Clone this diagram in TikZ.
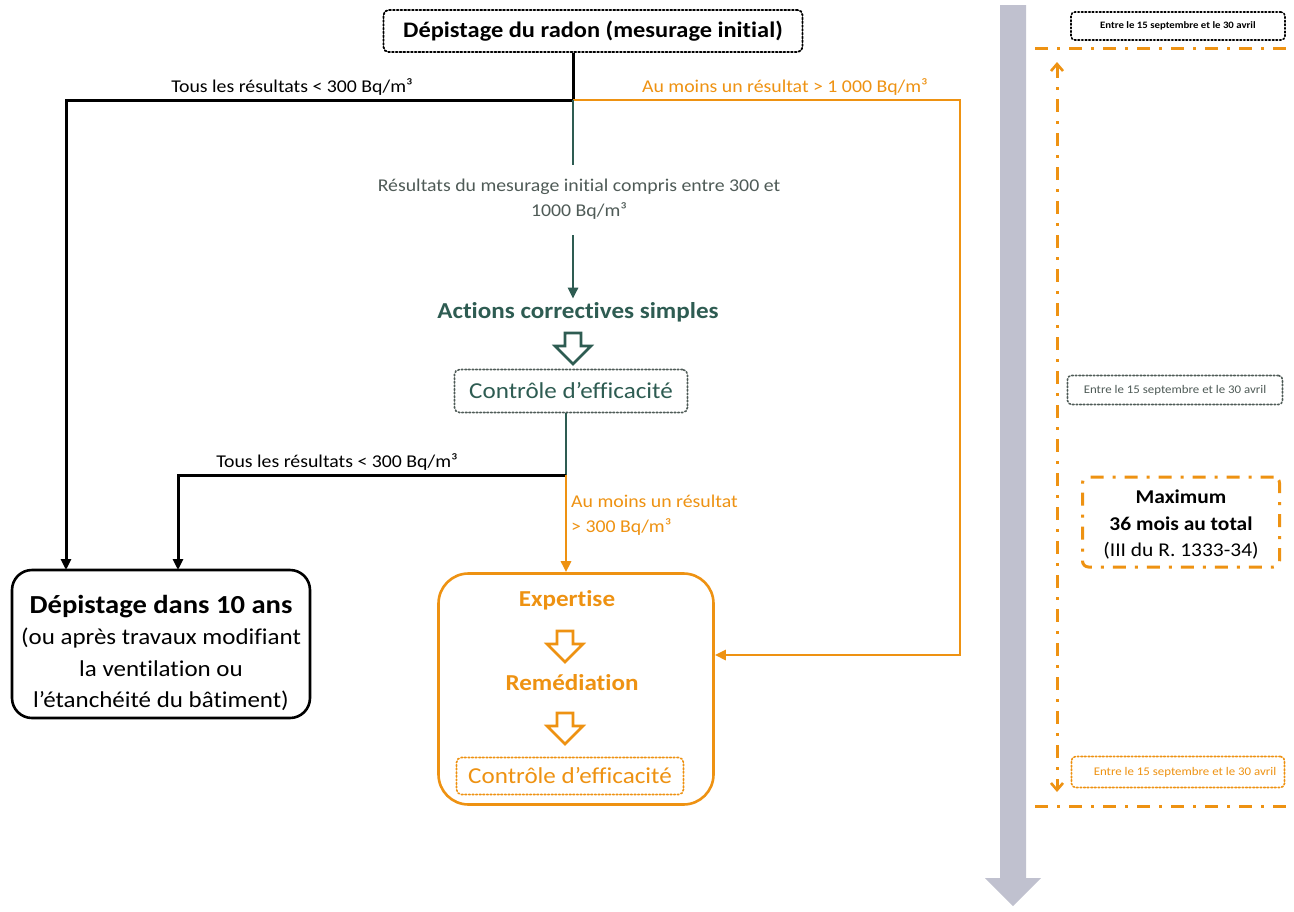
\documentclass[tikz,border=0pt]{standalone}
\usepackage{fontspec}
\setmainfont{Carlito}[FakeStretch=1.1,Ligatures=NoCommon]
\usetikzlibrary{arrows.meta}
\definecolor{orng}{HTML}{EE9212}
\definecolor{dgreen}{HTML}{2E5C52}
\definecolor{lgray}{HTML}{C0C1CF}
\definecolor{txtgray}{HTML}{4F5B57}
\newcommand\setfs[2]{\fontsize{#1}{#2}\selectfont}
\begin{document}
\begin{tikzpicture}[x=1pt,y=-1pt,
  blk/.style={line width=3pt,draw=black},
  org/.style={line width=2.6pt,draw=orng},
  grn/.style={line width=2.6pt,draw=dgreen},
  tip/.style={-{Triangle[length=11pt,width=10pt]}},
  dotbox/.style={draw,dotted,line width=1.8pt,line cap=round,rounded corners=5pt,inner sep=0pt},
  lbl/.style={inner sep=1pt,font=\setfs{18}{25}},
  dashdot/.style={draw=orng,line width=3pt,dash pattern=on 13pt off 9pt on 3pt off 9pt},
  hollow/.pic={\draw[line width=2.6pt,line join=miter,fill=white]
     (-8,0) -- (8,0) -- (8,13) -- (18,13) -- (0,31) -- (-18,13) -- (-8,13) -- cycle;},
  rbox/.style={draw,dotted,line width=1.6pt,line cap=round,rounded corners=4pt,inner sep=0pt,font=\setfs{11.7}{14}}
]
\useasboundingbox[fill=white] (0,0) rectangle (1294,911);

% --- time axis on the right ---
\fill[lgray] (1000,5) -- (1026,5) -- (1026,878) -- (1041,878) -- (1013,906) -- (985,878) -- (1000,878) -- cycle;
\coordinate (tA) at (1035,48);
\coordinate (tB) at (1290,48);
\coordinate (bA) at (1035,806);
\coordinate (bB) at (1290,806);
\draw[dashdot] (tA) -- (tB);
\draw[dashdot] (bA) -- (bB);
\coordinate (vA) at (1057,62);
\coordinate (vB) at (1057,792);
\draw[dashdot,{Straight Barb[length=7pt,width=12pt,line width=2.6pt]}-{Straight Barb[length=7pt,width=12pt,line width=2.6pt]}] (vA) -- (vB);

\node[rbox,minimum width=214,minimum height=28,font=\bfseries\setfs{9.8}{12}] (p1) at (1178,26) {Entre le 15 septembre et le 30 avril};
\node[rbox,draw=txtgray,text=txtgray,minimum width=215,minimum height=29] (p2) at (1175,390) {Entre le 15 septembre et le 30 avril};
\node[rbox,draw=orng,text=orng,minimum width=213,minimum height=31] (p3) at (1178,772) {\hspace*{14pt}Entre le 15 septembre et le 30 avril};
\node[draw=orng,line width=3pt,dash pattern=on 13pt off 9pt on 3pt off 9pt,rounded corners=6pt,
      minimum width=197,minimum height=90,inner sep=0pt] (mx) at (1181,522) {};
\node[align=center,font=\setfs{19.5}{26.5}] (mxt) at ([yshift=-3pt]mx.center)
  {\bfseries Maximum\\ \bfseries 36 mois au total\\ (III du R. 1333-34)};

% --- main flow ---
\node[dotbox,minimum width=419,minimum height=42,font=\bfseries\setfs{22.2}{26}] (title) at (593,31)
  {Dépistage du radon (mesurage initial)};

\node[draw,line width=2.6pt,rounded corners=20pt,minimum width=298,minimum height=148,inner sep=0pt] (dep) at (161,644) {};
\node[align=center,font=\setfs{22.7}{31.5}] (dept) at ([yshift=-9pt]dep.center)
  {{\bfseries\setfs{26}{31.5}Dépistage dans 10 ans}\\(ou après travaux modifiant\\la ventilation ou\\l’étanchéité du bâtiment)};

\node[draw=orng,line width=2.6pt,rounded corners=30pt,minimum width=275,minimum height=231,inner sep=0pt] (exp) at (576,689) {};
\node[text=orng,font=\bfseries\setfs{22.8}{26}] (ex) at (567,600) {Expertise};
\pic[orng] at (565,631) {hollow};
\node[text=orng,font=\bfseries\setfs{22.8}{26}] (rem) at (572,683) {Remédiation};
\pic[orng] at (565,713) {hollow};
\node[dotbox,draw=orng,text=orng,line width=1.6pt,minimum width=227,minimum height=37,font=\setfs{22.8}{26}] (c2) at (570,776) {Contrôle d’efficacité};

\node[text=dgreen,font=\bfseries\setfs{22.8}{26}] (act) at (578,312) {Actions correctives simples};
\pic[dgreen] at (573,333) {hollow};
\node[dotbox,draw=txtgray,text=dgreen,line width=1.6pt,minimum width=233,minimum height=43,font=\setfs{22.8}{26}] (c1) at (571,391) {Contrôle d’efficacité};

% junctions and corners
\coordinate (j1) at (573,100);
\coordinate (g1) at (573,165);
\coordinate (o1) at (960,655);
\coordinate (d1) at (66,570);
\coordinate (j2) at (566,475);
\coordinate (d2) at (178,570);

\node[lbl,text=txtgray,align=center] (res) at (579,199) {Résultats du mesurage initial compris entre 300 et\\1000 Bq/m³};

\draw[blk] (title.south -| j1) -- (j1);
\draw[blk,tip] (j1) -| (d1);
\draw[org,tip] (j1) -| (o1) -- (exp.east |- o1);
\draw[grn] (j1) -- (g1);
\draw[grn,tip] (res.south -| j1) ++(0,15) -- (act.north -| j1);

\draw[grn] (c1.south -| j2) -- (j2);
\draw[blk,tip] (j2) -| (d2);
\draw[org,tip] (j2) -- (exp.north -| j2);

\node[lbl,anchor=south] at (292,97) {Tous les résultats < 300 Bq/m³};
\node[lbl,anchor=south,text=orng] at (785,97) {Au moins un résultat > 1 000 Bq/m³};
\node[lbl,anchor=south] at (337,472) {Tous les résultats < 300 Bq/m³};
\node[lbl,anchor=north west,text=orng,align=left] at (570,494) {Au moins un résultat\\ > 300 Bq/m³};
\end{tikzpicture}
\end{document}
